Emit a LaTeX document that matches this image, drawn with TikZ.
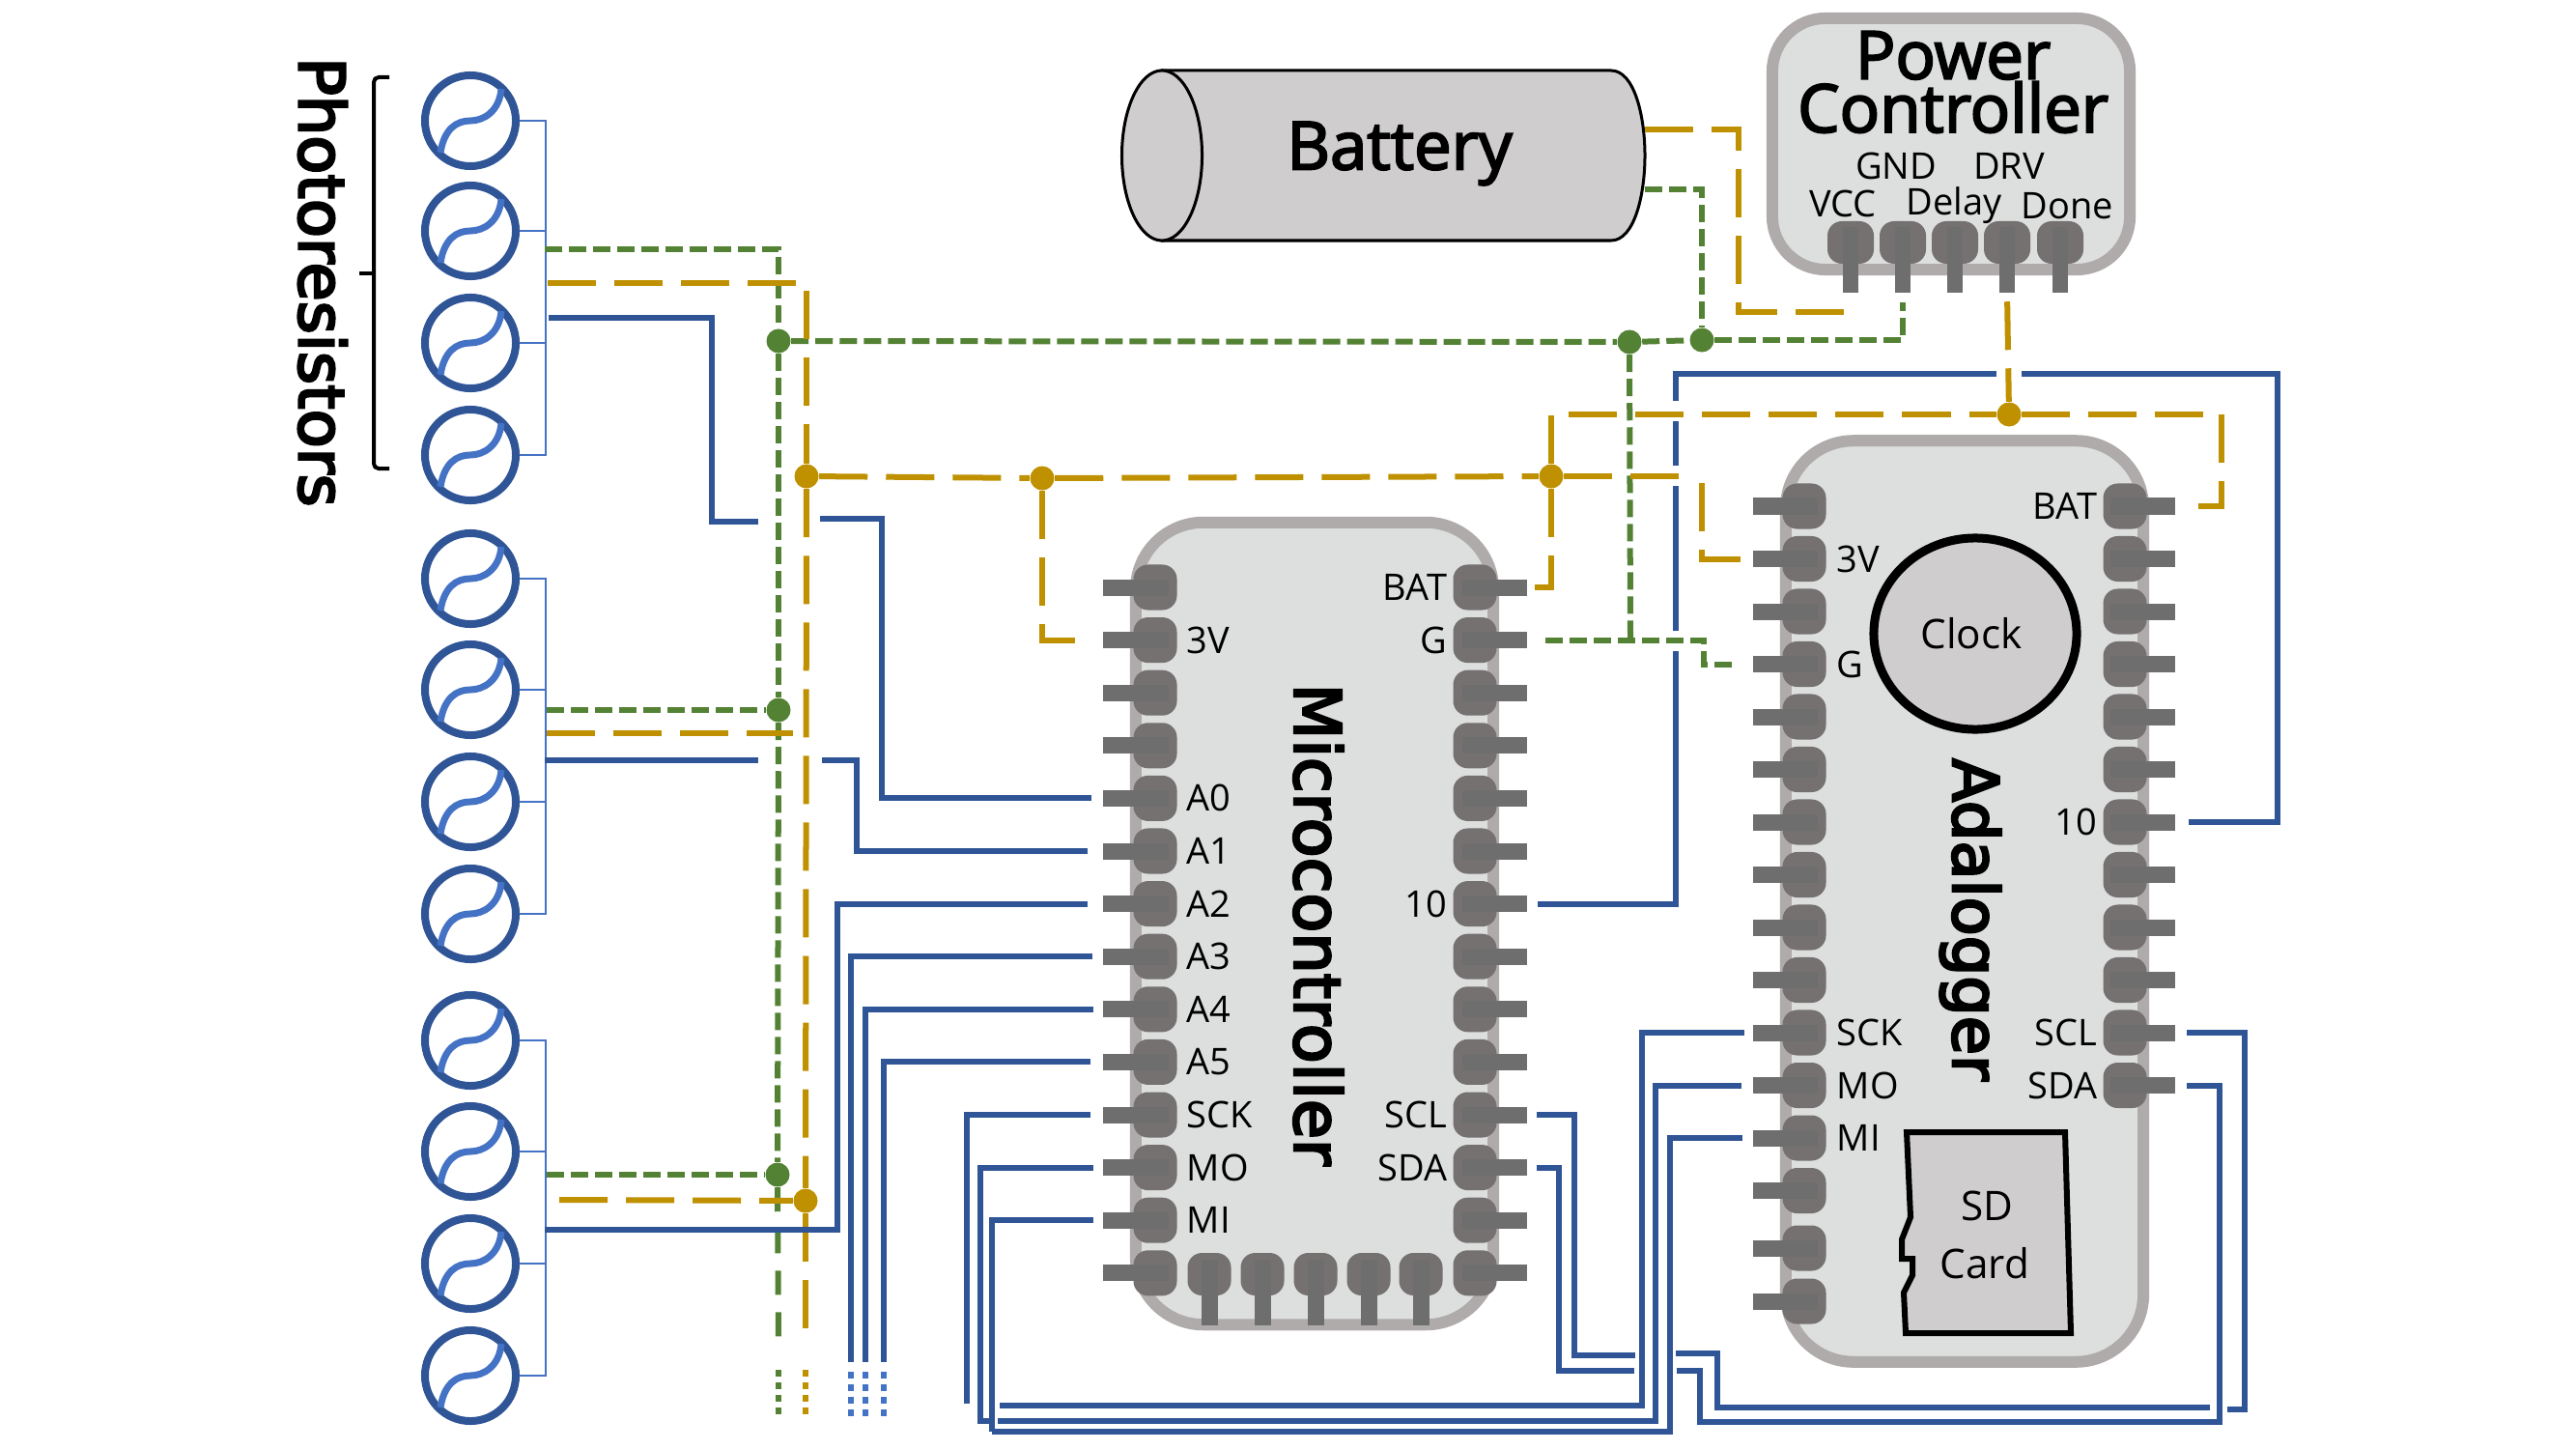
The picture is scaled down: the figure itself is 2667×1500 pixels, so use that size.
\documentclass[tikz,border=0pt]{standalone}
\usepackage{fontspec}
\setmainfont{Open Sans}
\newfontfamily\titlefont[FakeBold=4]{DejaVu Sans}
\newfontfamily\headfont[FakeBold=3]{Open Sans}
\usetikzlibrary{positioning}
\usetikzlibrary{shapes.geometric}
\definecolor{wireblue}{HTML}{2F5597}
\definecolor{lightblue}{HTML}{4472C4}
\definecolor{wiregreen}{HTML}{548235}
\definecolor{wiregold}{HTML}{BF9000}
\definecolor{boardfill}{HTML}{DCDFDD}
\definecolor{boardedge}{HTML}{AFABAB}
\definecolor{padfill}{HTML}{767171}
\definecolor{pinfill}{HTML}{6E6E6E}
\definecolor{partfill}{HTML}{CFCDCE}
\tikzset{
  board/.style={draw=boardedge, fill=boardfill, line width=0.12cm, rounded corners=0.7cm, minimum width=3.7cm},
  pad/.style={fill=padfill, rounded corners=0.15cm, minimum width=0.45cm, minimum height=0.47cm, inner sep=0},
  pinh/.style={fill=pinfill, minimum width=0.67cm, minimum height=0.17cm, inner sep=0},
  pinv/.style={fill=pinfill, minimum width=0.17cm, minimum height=0.67cm, inner sep=0},
  lbl/.style={font=\fontsize{10.8}{12}\selectfont, inner sep=0},
  title/.style={font=\titlefont\fontsize{18.6}{22}\selectfont, rotate=-90, inner sep=0},
  ldr/.style={circle, draw=wireblue, line width=0.08cm, minimum size=0.94cm, inner sep=0},
  ldrcurve/.style={draw=lightblue, line width=0.07cm},
  busline/.style={draw=lightblue, line width=0.015cm},
  bluewire/.style={draw=wireblue, line width=0.06cm},
  bluedots/.style={draw=lightblue, line width=0.06cm, dash pattern=on 0.07cm off 0.06cm},
  greenwire/.style={draw=wiregreen, line width=0.06cm, dash pattern=on 0.18cm off 0.07cm},
  greenlong/.style={draw=wiregreen, line width=0.06cm, dash pattern=on 0.25cm off 0.18cm},
  greendots/.style={draw=wiregreen, line width=0.06cm, dash pattern=on 0.07cm off 0.06cm},
  goldwire/.style={draw=wiregold, line width=0.06cm, dash pattern=on 0.5cm off 0.19cm},
  golddots/.style={draw=wiregold, line width=0.06cm, dash pattern=on 0.07cm off 0.06cm},
  joint/.style={circle, minimum size=0.25cm, inner sep=0}
}
\begin{document}
\begin{tikzpicture}[x=0.01cm, y=-0.01cm]
  \useasboundingbox (0,0) rectangle (2667,1500);

  % photoresistors
  \foreach \i/\ypos in {1/125,2/239,3/355,4/471,5/599,6/714,7/830,8/946,9/1077,10/1192,11/1308,12/1424} {
    \node[ldr] (p\i) at (487,\ypos) {};
    \draw[ldrcurve, shift={(p\i.center)}] (-31,33) .. controls (-27,8) and (-14,0) .. (0,0) .. controls (14,0) and (30,-10) .. (32,-33);
  }
  \foreach \a/\b/\c/\d in {p1/p2/p3/p4, p5/p6/p7/p8, p9/p10/p11/p12} {
    \draw[busline] (\a.east) -- ++(27,0) |- (\d.east);
    \draw[busline] (\b.east) -- ++(27,0);
    \draw[busline] (\c.east) -- ++(27,0);
  }
  \draw[black, line width=0.04cm, rounded corners=0.05cm] (403,80) -- (387,80) -- (387,485) -- (403,485);
  \draw[black, line width=0.04cm] (372,283) -- (387,283);
  \node[title] (ldrname) at (334,292) {Photoresistors};

  % boards
  \node[board, minimum height=8.3cm] (micro) at (1361,956) {};
  \node[board, minimum height=9.53cm] (logger) at (2034,933) {};
  \node[board, minimum height=2.6cm, rounded corners=0.55cm] (power) at (2020,149) {};

  % pads and pins
  \foreach \i in {1,...,14} {
    \pgfmathsetmacro{\ypos}{608+54.6*(\i-1)}
    \node[pad] (ml\i) at (1196,\ypos) {};
    \node[pinh] (mlp\i) at (1176,\ypos) {};
    \node[pad] (mr\i) at (1527,\ypos) {};
    \node[pinh] (mrp\i) at (1547,\ypos) {};
  }
  \foreach \i/\xpos in {1/1252,2/1307,3/1362,4/1417,5/1471} {
    \node[pad, minimum height=0.44cm] (mb\i) at (\xpos,1319) {};
    \node[pinv] (mbp\i) at (\xpos,1338) {};
  }
  \foreach \i/\ypos in {1/524,2/578.5,3/633,4/687.5,5/742,6/796.5,7/851,8/905.5,9/960,10/1014.5,11/1069,12/1123.5,13/1178,14/1232.5,15/1292,16/1347} {
    \node[pad] (al\i) at (1868,\ypos) {};
    \node[pinh] (alp\i) at (1848,\ypos) {};
  }
  \foreach \i in {1,...,12} {
    \pgfmathsetmacro{\ypos}{524+54.5*(\i-1)}
    \node[pad] (ar\i) at (2200,\ypos) {};
    \node[pinh] (arp\i) at (2218,\ypos) {};
  }
  \foreach \i/\xpos in {1/1916,2/1970,3/2024,4/2078,5/2133} {
    \node[pad, minimum width=0.48cm, minimum height=0.44cm] (pp\i) at (\xpos,251) {};
    \node[pinv, minimum width=0.16cm] (ppp\i) at (\xpos,269) {};
  }

  % pin labels
  \foreach \n/\t in {2/3V,5/A0,6/A1,7/A2,8/A3,9/A4,10/A5,11/SCK,12/MO,13/MI} {
    \node[lbl, right=0.09cm of ml\n] (mln\n) {\t};
  }
  \foreach \n/\t in {1/BAT,2/G,7/10,11/SCL,12/SDA} {
    \node[lbl, left=0.05cm of mr\n] (mrn\n) {\t};
  }
  \foreach \n/\t in {2/3V,4/G,11/SCK,12/MO,13/MI} {
    \node[lbl, right=0.1cm of al\n] (aln\n) {\t};
  }
  \foreach \n/\t in {1/BAT,7/10,11/SCL,12/SDA} {
    \node[lbl, left=0.05cm of ar\n] (arn\n) {\t};
  }
  \node[lbl] (gndname) at (1963,172) {GND};
  \node[lbl] (drvname) at (2080,172) {DRV};
  \node[lbl] (vccname) at (1908,211) {VCC};
  \node[lbl] (delayname) at (2023,213) {Delay};
  \node[lbl] (donename) at (2140,213) {Done};

  % parts
  \node[title, font=\titlefont\fontsize{19}{22}\selectfont] (microname) at (1365,957) {Microcontroller};
  \node[title] (loggername) at (2040,952) {Adalogger};
  \node[font=\headfont\fontsize{19.6}{15.7}\selectfont, align=center, inner sep=0] (powername) at (2022,85) {Power\\Controller};
  \draw[black, fill=partfill, line width=0.03cm] (1203,73) -- (1668,73) .. controls (1692,73) and (1703,120) .. (1703,161)
    .. controls (1703,202) and (1692,249) .. (1668,249) -- (1203,249) -- cycle;
  \node[ellipse, draw=black, fill=partfill, line width=0.03cm, minimum width=0.83cm, minimum height=1.76cm, inner sep=0] (batend) at (1203,161) {};
  \node[font=\headfont\fontsize{19.6}{22}\selectfont, inner sep=0] (batteryname) at (1449,159) {Battery};
  \node[ellipse, draw=black, fill=partfill, line width=0.09cm, minimum width=2.1cm, minimum height=1.98cm, inner sep=0] (clock) at (2045,656) {};
  \node[font=\fontsize{12}{14}\selectfont, inner sep=0] (clockname) at (2041,656) {Clock};
  \draw[black, fill=partfill, line width=0.06cm] (1974,1172) -- (2138,1172) -- (2144,1380) -- (1973,1380) -- (1971,1338)
    -- (1980,1320) -- (1980,1303) -- (1969,1303) -- (1969,1283) -- (1978,1260) -- cycle;
  \node[font=\fontsize{12}{14}\selectfont, inner sep=0] (sdname) at (2057,1248) {SD};
  \node[font=\fontsize{12}{14}\selectfont, inner sep=0] (cardname) at (2055,1308) {Card};

  % free ends of the wires
  \coordinate (gt1) at (564,258);
  \coordinate (gt2) at (566,735);
  \coordinate (gt3) at (566,1216);
  \coordinate (dt1) at (567,293);
  \coordinate (dt2) at (566,759);
  \coordinate (de2) at (821,759);
  \coordinate (dt3) at (579,1242);
  \coordinate (bt1) at (568,329);
  \coordinate (be1) at (785,540);
  \coordinate (bs1) at (849,537);
  \coordinate (bt2) at (564,787);
  \coordinate (be2) at (785,787);
  \coordinate (bs2) at (851,787);
  \coordinate (bt3) at (564,1273);
  \coordinate (ga) at (806,1390);
  \coordinate (gb) at (806,1418);
  \coordinate (gc) at (806,1469);
  \coordinate (da) at (834,1392);
  \coordinate (db) at (834,1418);
  \coordinate (dc) at (834,1469);
  \coordinate (a3a) at (881,1410);
  \coordinate (a3b) at (881,1420);
  \coordinate (a3c) at (881,1469);
  \coordinate (a4a) at (896,1410);
  \coordinate (a4b) at (896,1420);
  \coordinate (a4c) at (896,1469);
  \coordinate (a5a) at (915,1410);
  \coordinate (a5b) at (915,1420);
  \coordinate (a5c) at (915,1469);
  \coordinate (sck1) at (1001,1453);
  \coordinate (sck2) at (1035,1455);
  \coordinate (mo1) at (1024,1471);
  \coordinate (mo2) at (1033,1471);
  \coordinate (mi1) at (1027,1482);
  \coordinate (scl1) at (1693,1403);
  \coordinate (scl2) at (1735,1401);
  \coordinate (scl3) at (2288,1457);
  \coordinate (scl4) at (2306,1459);
  \coordinate (sda1) at (1692,1419);
  \coordinate (sda2) at (1736,1419);
  \coordinate (sda3) at (2298,1472);
  \coordinate (ten1) at (1735,674);
  \coordinate (ten2) at (1735,653);
  \coordinate (ten3) at (1735,503);
  \coordinate (ten4) at (1735,482);
  \coordinate (ten5) at (1735,436);
  \coordinate (ten6) at (1735,415);
  \coordinate (ten7) at (2067,387);
  \coordinate (ten8) at (2093,387);
  \coordinate (batplus) at (1703,134);
  \coordinate (batminus) at (1703,196);
  \coordinate (gold1) at (1800,323);
  \coordinate (gold2) at (1752,493);
  \coordinate (gold3) at (1762,500);
  \coordinate (green1) at (1688,663);

  % joints
  \node[joint, fill=wiregreen] (k1) at (806,353) {};
  \node[joint, fill=wiregreen] (k2) at (806,735) {};
  \node[joint, fill=wiregreen] (k3) at (805,1216) {};
  \node[joint, fill=wiregreen] (k4) at (1687,354) {};
  \node[joint, fill=wiregreen] (k5) at (1762,352) {};
  \node[joint, fill=wiregold] (d1) at (835,493) {};
  \node[joint, fill=wiregold] (d2) at (1079,495) {};
  \node[joint, fill=wiregold] (d3) at (834,1243) {};
  \node[joint, fill=wiregold] (d4) at (1606,493) {};
  \node[joint, fill=wiregold] (d5) at (2080,429) {};

  % ground
  \draw[greenwire] (gt1) -| (k1);
  \draw[greenwire] (k1) -- (k2);
  \draw[greenwire] (k2) -- (k3);
  \draw[greenlong] (k3) -- (ga);
  \draw[greendots] (gb) -- (gc);
  \draw[greenwire] (gt2) -- (k2);
  \draw[greenwire] (gt3) -- (k3);
  \draw[greenwire] (k1) -- (k4);
  \draw[greenwire] (k4) -- (k5);
  \draw[greenwire, shorten >=0.1cm] (k5) -| (ppp2.south);
  \draw[greenwire] (batminus) -| (k5);
  \draw[greenwire] (k4) -- (green1);
  \draw[greenwire, shorten <=0.19cm, shorten >=0.16cm] (mrp2.east) -- ++(183,0) |- (alp4.west);

  % power
  \draw[goldwire] (dt1) -| (d1);
  \draw[goldwire] (d1) -- (d3);
  \draw[goldwire] (d3) -- (da);
  \draw[golddots] (db) -- (dc);
  \draw[goldwire] (dt2) -- (de2);
  \draw[goldwire] (dt3) -- (d3);
  \draw[goldwire] (d1) -- (d2);
  \draw[goldwire] (d2) -- (d4);
  \draw[goldwire] (d4) -- (gold2);
  \draw[goldwire, shorten >=0.12cm] (gold3) |- (alp2.west);
  \draw[goldwire, shorten >=0.22cm] (d2) |- (mlp2.west);
  \draw[goldwire, shorten >=0.07cm] (d4) |- (mrp1.east);
  \draw[goldwire] (d4) |- (d5);
  \draw[goldwire, shorten >=0.19cm] (d5) -- ++(220,0) |- (arp1.east);
  \draw[goldwire, shorten <=0.09cm] (ppp4.south) -- (d5);
  \draw[goldwire, shorten >=0.09cm] (batplus) -| (gold1) -| (ppp1.south);

  % signals
  \draw[bluewire] (bt1) -- ++(169,0) |- (be1);
  \draw[bluewire, shorten >=0.12cm] (bs1) -- ++(64,0) |- (mlp5.west);
  \draw[bluewire] (bt2) -- (be2);
  \draw[bluewire, shorten >=0.16cm] (bs2) -- ++(36,0) |- (mlp6.west);
  \draw[bluewire, shorten >=0.16cm] (bt3) -- ++(303,0) |- (mlp7.west);
  \draw[bluewire, shorten >=0.11cm] (a3a) |- (mlp8.west);
  \draw[bluedots] (a3b) -- (a3c);
  \draw[bluewire, shorten >=0.1cm] (a4a) |- (mlp9.west);
  \draw[bluedots] (a4b) -- (a4c);
  \draw[bluewire, shorten >=0.13cm] (a5a) |- (mlp10.west);
  \draw[bluedots] (a5b) -- (a5c);
  \draw[bluewire, shorten >=0.13cm] (sck1) |- (mlp11.west);
  \draw[bluewire, shorten >=0.08cm] (sck2) -- ++(665,0) |- (alp11.west);
  \draw[bluewire, shorten >=0.1cm] (mo1) -- ++(-9,0) |- (mlp12.west);
  \draw[bluewire, shorten >=0.11cm] (mo2) -- ++(681,0) |- (alp12.west);
  \draw[bluewire, shorten >=0.1cm] (mi1) |- (mlp13.west);
  \draw[bluewire, shorten >=0.1cm] (mi1) -- ++(702,0) |- (alp13.west);
  \draw[bluewire, shorten >=0.1cm] (scl1) -- ++(-63,0) |- (mrp11.east);
  \draw[bluewire] (scl2) -- ++(43,0) |- (scl3);
  \draw[bluewire, shorten >=0.12cm] (scl4) -- ++(18,0) |- (arp11.east);
  \draw[bluewire, shorten >=0.1cm] (sda1) -- ++(-78,0) |- (mrp12.east);
  \draw[bluewire, shorten >=0.12cm] (sda2) -- ++(24,0) |- (sda3) |- (arp12.east);
  \draw[bluewire, shorten <=0.11cm] (mrp7.east) -| (ten1);
  \draw[bluewire] (ten2) -- (ten3);
  \draw[bluewire] (ten4) -- (ten5);
  \draw[bluewire] (ten6) |- (ten7);
  \draw[bluewire, shorten >=0.14cm] (ten8) -- ++(265,0) |- (arp7.east);
\end{tikzpicture}
\end{document}
